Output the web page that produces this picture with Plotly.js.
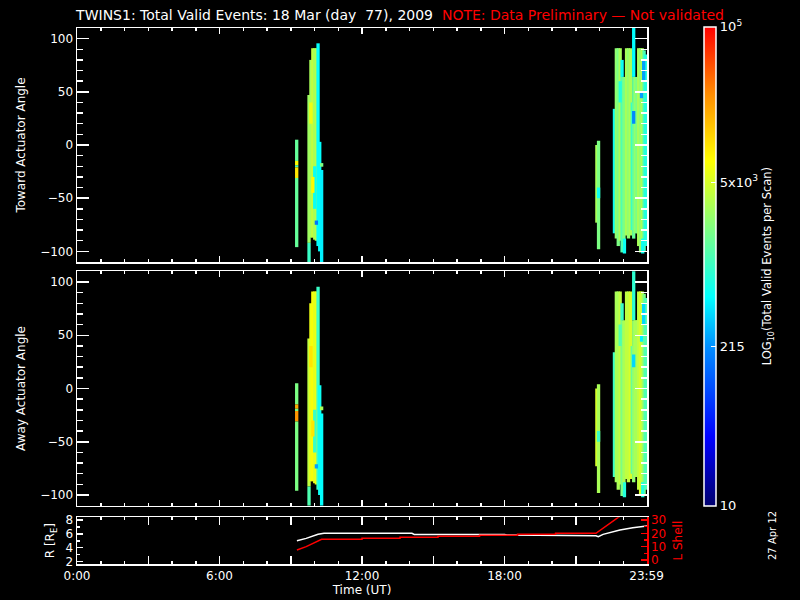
<!DOCTYPE html>
<html>
<head>
<meta charset="utf-8">
<script src="https://cdn.plot.ly/plotly-3.0.1.min.js"></script>
<style>html,body{margin:0;padding:0;background:#000;}#chart{width:800px;height:600px;}</style>
</head>
<body>
<div id="chart"></div>
<script>
// ---- Scan segments (time in hours UT, angle range in degrees) ----
const scanTime = [9.25,9.25,9.25,9.25,9.25, 9.77,9.77,9.85,9.93,10.01,10.08,10.15,10.22,10.30,10.30, 10.01,9.93,9.85,10.08,
  21.89,21.96,21.96, 22.63,22.71,22.79,22.87,22.95,23.03,23.14,23.22,23.30,23.38,23.44,23.44,23.51,23.58,23.65,23.73,23.80,23.88,23.94, 23.05,22.87,23.86,
  23.44,22.95,23.77,23.82];
const scanLo = [-15,-19,-21,-31,-96, -92,-110,-87,-87,-89,-90,-95,-100,-110,-20.4, -60,-45,20,-75,
  -73,-98,-50, -83,-88,-95,-90,-101,-96,-85,-88,-85,-80,64,-88,-83,-83,-95,-101,-95,-100,-95, -102,40,60,
  20,64,44,-102];
const scanHi = [5,-15,-19,-21,-31, 47,-92,80,91,91,91,95.6,3,-23.5,-17, -20,-30,40,-71,
  0,4,-40, 34,91,91,91,64,64,91,91,91,40,112,64,64,64,91,91,91,89,85, -88,60,80,
  32,80,50,-88];
// log10(Total Valid Events per Scan)
const towardLog = [3.2,3.9,3.1,4.0,3.2, 3.45,3.0,3.5,3.6,3.5,3.55,2.75,2.75,2.7,3.3, 2.8,3.9,3.8,2.2,
  3.5,3.3,2.8, 2.8,3.4,3.3,3.5,3.1,3.3,3.5,3.4,3.5,3.0,2.75,3.2,3.4,3.3,3.5,3.4,3.5,3.1,2.9, 2.8,2.9,2.4,
  2.3,2.8,2.4,2.8];
const awayLog = [3.3,4.3,3.3,4.4,3.3, 3.6,3.1,3.8,3.85,3.75,3.8,3.0,2.8,2.75,3.5, 3.0,4.0,4.0,2.4,
  3.7,3.5,3.0, 3.0,3.5,3.5,3.6,3.3,3.5,3.6,3.6,3.7,3.2,2.95,3.4,3.5,3.5,3.6,3.7,3.6,3.3,3.1, 2.9,3.1,2.6,
  2.6,3.0,2.7,2.9];
const scanWidth = 0.14;

// ---- Orbit panel ----
const rTime = [9.26,9.65,10.15,10.4,14.1,14.2,18.0,18.1,21.85,21.95,22.15,22.86,23.4,24.0];
const rVal  = [5.02,5.35,5.95,6.08,6.08,5.93,5.93,5.84,5.74,5.60,5.93,6.56,6.9,7.14];
const lTime = [9.26,9.65,10.3,12.0,12.0,13.6,13.6,15.2,15.2,16.95,16.95,18.55,18.55,20.15,20.15,21.85,22.95];
const lVal  = [7.5,10,15.5,15.5,16.25,16.25,17,17,17.75,17.75,18.5,18.5,19.25,19.25,20,20,34];

// ---- Ticks ----
const timeTickVals = [0,3,6,9,12,15,18,21,23.983];
const timeTickText = ['0:00','','6:00','','12:00','','18:00','','23:59'];
const angleTickVals = [-100,-50,0,50,100];
const cbCounts = [10,215,5000,100000];
const cbText = ['10','215','5x10<sup>3</sup>','10<sup>5</sup>'];

const colorscale = [
  [0,'rgb(0,0,110)'],[0.144,'rgb(0,0,255)'],[0.33,'rgb(0,140,255)'],[0.436,'rgb(0,255,255)'],
  [0.58,'rgb(128,255,128)'],[0.72,'rgb(255,255,0)'],[0.86,'rgb(255,140,0)'],[1,'rgb(255,0,0)']
];

const FONT = '"DejaVu Sans", sans-serif';
const heights = scanHi.map((h,i)=>h-scanLo[i]);

function scanTrace(vals, xa, ya, showscale){
  return {
    type:'bar', x:scanTime, y:heights, base:scanLo, width:scanWidth,
    xaxis:xa, yaxis:ya, hoverinfo:'skip',
    marker:{color:vals, colorscale:colorscale, cmin:1, cmax:5, line:{width:0},
      showscale:showscale,
      colorbar: showscale ? {
        x:1.1, xanchor:'left', xref:'paper', xpad:0, ypad:0,
        y:0.109, yanchor:'bottom', len:0.893, lenmode:'fraction',
        thickness:12, outlinecolor:'white', outlinewidth:1.5, bgcolor:'rgba(0,0,0,0)',
        tickvals:cbCounts.map(v=>Math.log10(v)), ticktext:cbText,
        ticks:'inside', ticklen:5, tickcolor:'white', tickfont:{color:'white', size:13, family:FONT},
        title:{text:'LOG<sub>10</sub>(Total Valid Events per Scan)', side:'right', font:{color:'white', size:11.5, family:FONT}}
      } : undefined}
  };
}

const traces = [
  scanTrace(towardLog,'x','y',true),
  scanTrace(awayLog,'x2','y2',false),
  {type:'scatter', mode:'lines', x:rTime, y:rVal, xaxis:'x3', yaxis:'y3', line:{color:'white', width:1.5}, hoverinfo:'skip'},
  {type:'scatter', mode:'lines', x:lTime, y:lVal, xaxis:'x3', yaxis:'y4', line:{color:'red', width:1.5}, hoverinfo:'skip'}
];

const tf = {color:'white', size:12, family:FONT};
function timeAxis(anchor, labels){
  return {
    domain:[0,1], anchor:anchor, range:[0,24], showgrid:false, zeroline:false,
    showline:true, linecolor:'white', linewidth:1.5, mirror:'ticks',
    ticks:'inside', tickcolor:'white', tickwidth:1.5,
    tickvals: labels ? timeTickVals : [0,6,12,18,24],
    ticktext: labels ? timeTickText : undefined,
    ticklen: labels ? 8 : 6,
    showticklabels: labels, tickfont:{color:'white', size:12, family:FONT},
    minor:{tick0:0, dtick:1, ticks:'inside', ticklen:3, tickcolor:'white', tickwidth:1.5}
  };
}
function angleAxis(anchor, domain, title){
  return {
    domain:domain, anchor:anchor, range:[-110,110], showgrid:false, zeroline:false,
    showline:true, linecolor:'white', linewidth:1.5, mirror:'ticks',
    ticks:'inside', ticklen:12, tickcolor:'white', tickwidth:1.5, tickvals:angleTickVals,
    tickfont:{color:'white', size:12, family:FONT},
    minor:{dtick:10, ticks:'inside', ticklen:6, tickcolor:'white', tickwidth:1.5},
    title:{text:title, font:tf, standoff:12}
  };
}

const xa3 = timeAxis('y3', true);
xa3.title = {text:'Time (UT)', font:{color:'white', size:12, family:FONT}, standoff:2};

const layout = {
  width:800, height:600, paper_bgcolor:'black', plot_bgcolor:'black',
  margin:{l:77, r:153, t:28, b:36}, showlegend:false, barmode:'overlay',
  font:{family:FONT, color:'white'},
  title:{text:'TWINS1: Total Valid Events: 18 Mar (day  77), 2009  <span style="color:red">NOTE: Data Preliminary \u2014 Not validated</span>',
    x:0.5, xanchor:'center', xref:'container', y:1-15/600, yanchor:'middle', yref:'container',
    font:{color:'white', size:14, family:FONT}},
  xaxis: timeAxis('y', false),
  yaxis: angleAxis('x', [0.5634,1.0], 'Toward Actuator Angle'),
  xaxis2: timeAxis('y2', false),
  yaxis2: angleAxis('x2', [0.1088,0.546], 'Away Actuator Angle'),
  xaxis3: xa3,
  yaxis3: {domain:[0,0.0871], anchor:'x3', range:[1.65,8.4], showgrid:false, zeroline:false,
    showline:true, linecolor:'white', linewidth:1.5, mirror:false,
    ticks:'inside', ticklen:6, tickcolor:'white', tickwidth:1.5, tickvals:[2,4,6,8],
    tickfont:{color:'white', size:12, family:FONT},
    minor:{dtick:1, ticks:'inside', ticklen:3, tickcolor:'white', tickwidth:1.5},
    title:{text:'R [R<sub>E</sub>]', font:tf, standoff:8}},
  yaxis4: {overlaying:'y3', side:'right', anchor:'x3', range:[-3,32], showgrid:false, zeroline:false,
    showline:true, linecolor:'red', linewidth:1.5,
    ticks:'inside', ticklen:6, tickcolor:'red', tickwidth:1.5, tickvals:[0,10,20,30],
    tickfont:{color:'red', size:12, family:FONT},
    minor:{dtick:5, ticks:'inside', ticklen:3, tickcolor:'red', tickwidth:1.5},
    title:{text:'L Shell', font:{color:'red', size:12, family:FONT}, standoff:8}},
  annotations:[
    {text:'27 Apr 12', xref:'paper', yref:'paper', x:(780-77)/570, y:(564-562)/536, textangle:-90,
     showarrow:false, font:{color:'white', size:10, family:FONT}}
  ]
};

Plotly.newPlot('chart', traces, layout, {displayModeBar:false, staticPlot:true});
</script>
</body>
</html>
